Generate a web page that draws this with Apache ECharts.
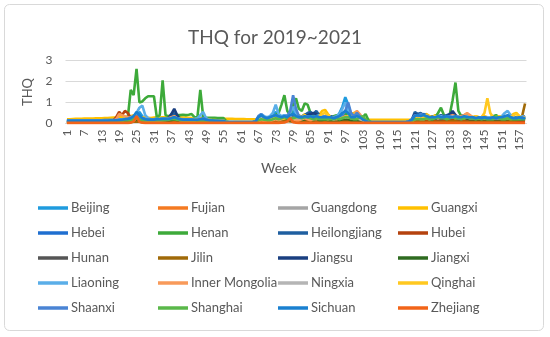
<!DOCTYPE html>
<html>
<head>
<meta charset="utf-8">
<script src="https://cdn.jsdelivr.net/npm/echarts@6/dist/echarts.min.js"></script>
<style>
html,body{margin:0;padding:0;background:#fff;}
#c{width:550px;height:337px;}
</style>
</head>
<body>
<div id="c"></div>
<script>
const provinces = ['Beijing','Fujian','Guangdong','Guangxi','Hebei','Henan','Heilongjiang','Hubei','Hunan','Jilin','Jiangsu','Jiangxi','Liaoning','Inner Mongolia','Ningxia','Qinghai','Shaanxi','Shanghai','Sichuan','Zhejiang'];
const colors = ['#1F9BDE','#F47A22','#A5A5A5','#FFC000','#1F6FD0','#3DAA3A','#1F5FA0','#B5420E','#555555','#A06A08','#1A3F80','#2E6B20','#5AAEE8','#F89A5A','#B5B5B5','#FFC820','#4A84D4','#5AB84A','#1A80D0','#F26418'];
const weekCount = 159;
const weeks = [];
for (let i = 1; i <= weekCount; i++) weeks.push(String(i));
const yTicks = [0, 1, 2, 3];

const beijing = [
.12,.12,.13,.12,.12,.13,.12,.12,.13,.12,
.12,.13,.12,.13,.14,.15,.15,.18,.2,.18,
.2,.22,.2,.3,.45,.55,.35,.2,.18,.2,
.18,.2,.18,.2,.22,.25,.2,.22,.2,.18,
.2,.18,.2,.18,.2,.2,.25,.3,.2,.15,
.15,.14,.14,.13,.12,.07,.07,.07,.07,.07,
.07,.07,.07,.07,.07,.08,.25,.35,.3,.25,
.3,.4,.55,.35,.3,.4,.3,.45,.6,.4,
.3,.25,.3,.35,.3,.25,.3,.35,.3,.35,
.4,.3,.25,.3,.5,.8,1.25,.9,.4,.3,
.35,.3,.2,.12,.07,.07,.07,.07,.07,.07,
.07,.07,.07,.07,.07,.07,.07,.07,.08,.15,
.3,.35,.3,.25,.3,.2,.25,.3,.25,.3,
.3,.25,.3,.35,.3,.25,.3,.35,.3,.25,
.2,.25,.2,.25,.3,.2,.2,.25,.2,.25,
.3,.35,.3,.25,.2,.25,.3,.25,.2];
const fujian = [
.05,.05,.05,.05,.05,.05,.05,.05,.05,.05,
.05,.05,.05,.05,.06,.06,.07,.08,.1,.12,
.15,.12,.1,.12,.2,.15,.1,.08,.08,.08,
.08,.08,.07,.08,.1,.12,.15,.12,.1,.08,
.08,.08,.07,.07,.07,.07,.07,.06,.06,.06,
.05,.05,.05,.05,.05,.05,.05,.05,.05,.05,
.05,.05,.05,.05,.05,.06,.1,.12,.1,.08,
.1,.12,.15,.12,.1,.12,.15,.2,.15,.12,
.1,.12,.15,.12,.1,.1,.12,.1,.1,.12,
.1,.1,.12,.1,.1,.12,.15,.12,.1,.15,
.2,.15,.1,.08,.05,.05,.05,.05,.05,.05,
.05,.05,.05,.05,.05,.05,.05,.05,.05,.06,
.1,.12,.1,.1,.12,.1,.1,.12,.1,.12,
.15,.12,.1,.15,.2,.15,.12,.15,.2,.15,
.12,.1,.1,.12,.1,.12,.1,.1,.12,.1,
.1,.12,.1,.1,.12,.1,.1,.12,.1];
const guangdong = [
.1,.1,.1,.1,.1,.1,.1,.1,.1,.1,
.1,.1,.1,.1,.1,.12,.12,.15,.15,.18,
.2,.18,.2,.25,.3,.2,.15,.15,.12,.12,
.12,.12,.12,.15,.15,.18,.2,.25,.2,.15,
.15,.12,.12,.12,.12,.12,.15,.15,.12,.1,
.1,.1,.1,.1,.1,.07,.07,.07,.07,.07,
.07,.07,.07,.07,.07,.1,.2,.3,.25,.2,
.2,.25,.3,.25,.3,.35,.4,.3,.25,.3,
.25,.2,.25,.3,.25,.2,.25,.2,.2,.25,
.2,.2,.15,.2,.25,.3,.35,.3,.25,.2,
.2,.15,.12,.1,.07,.07,.07,.07,.07,.07,
.07,.07,.07,.07,.07,.07,.07,.07,.07,.08,
.2,.25,.2,.2,.25,.2,.2,.25,.2,.25,
.25,.2,.25,.3,.25,.2,.25,.3,.25,.2,
.2,.2,.15,.2,.2,.15,.2,.2,.15,.2,
.2,.2,.25,.2,.2,.25,.2,.2,.2];
const guangxi = [
.2,.2,.21,.22,.22,.22,.23,.23,.24,.24,
.25,.25,.25,.26,.26,.27,.28,.28,.3,.3,
.3,.32,.35,.4,.3,.28,.3,.28,.27,.26,
.28,.3,.28,.3,.3,.28,.3,.3,.28,.3,
.28,.28,.27,.26,.25,.25,.25,.25,.25,.24,
.24,.23,.23,.22,.22,.22,.22,.22,.21,.21,
.21,.21,.2,.2,.2,.2,.22,.25,.22,.2,
.22,.25,.3,.25,.3,.28,.3,.25,.3,.28,
.4,.3,.45,.35,.3,.25,.3,.4,.6,.65,
.45,.3,.25,.3,.25,.3,.28,.35,.45,.5,
.55,.35,.25,.2,.18,.18,.18,.18,.18,.18,
.18,.18,.18,.18,.18,.18,.18,.18,.18,.18,
.3,.35,.3,.4,.45,.35,.3,.4,.35,.3,
.35,.3,.35,.3,.25,.3,.35,.3,.25,.3,
.3,.35,.3,.28,.35,.3,.3,.35,.3,.35,
.3,.35,.3,.35,.45,.5,.35,.3,.3];
const hebei = [
.15,.15,.15,.15,.15,.15,.15,.15,.15,.15,
.15,.15,.15,.16,.16,.17,.17,.18,.18,.2,
.2,.22,.25,.3,.4,.3,.25,.2,.2,.2,
.2,.22,.2,.25,.25,.22,.25,.3,.25,.22,
.2,.2,.2,.2,.18,.18,.18,.2,.18,.16,
.15,.14,.13,.12,.12,.07,.07,.07,.07,.07,
.07,.07,.07,.07,.07,.1,.3,.4,.3,.25,
.25,.3,.35,.3,.35,.3,.35,.5,.4,.3,
.3,.35,.3,.4,.35,.3,.35,.3,.3,.35,
.3,.25,.3,.25,.3,.35,.4,.35,.3,.3,
.3,.25,.2,.12,.07,.07,.07,.07,.07,.07,
.07,.07,.07,.07,.07,.07,.07,.07,.09,.12,
.4,.45,.35,.45,.4,.3,.3,.35,.3,.35,
.3,.35,.4,.35,.3,.35,.3,.3,.35,.3,
.3,.25,.3,.25,.3,.25,.3,.3,.25,.3,
.3,.25,.3,.35,.3,.25,.3,.25,.3];
const henan = [
.08,.08,.08,.08,.08,.08,.08,.09,.09,.09,
.09,.1,.1,.1,.1,.1,.12,.12,.14,.15,
.2,.3,1.6,1.35,2.6,1.0,1.05,1.2,1.3,1.3,
1.3,.3,.4,2.05,.4,.35,.4,.35,.4,.4,
.42,.4,.42,.45,.3,.3,1.6,.3,.27,.27,
.27,.27,.26,.26,.26,.1,.06,.06,.06,.06,
.06,.06,.06,.06,.06,.1,.2,.25,.3,.3,
.3,.35,.4,.5,.9,1.35,.6,.4,.9,1.2,
.7,.6,.95,.9,.5,.4,.35,.4,.35,.3,
.35,.3,.35,.4,.35,.4,.45,.5,.35,.3,
.3,.35,.3,.45,.15,.06,.06,.06,.06,.06,
.06,.06,.06,.06,.06,.06,.06,.06,.08,.12,
.2,.25,.2,.25,.3,.25,.3,.3,.5,.75,
.4,.35,.4,1.1,1.95,.6,.35,.4,.45,.35,
.3,.3,.25,.3,.3,.25,.3,.35,.4,.3,
.3,.25,.3,.3,.25,.3,.3,.25,.3];
const heilongjiang = [
.1,.1,.1,.1,.1,.1,.1,.1,.1,.1,
.1,.1,.1,.1,.12,.12,.12,.14,.15,.15,
.18,.2,.2,.25,.3,.25,.2,.18,.15,.15,
.15,.15,.18,.2,.2,.25,.35,.5,.3,.2,
.18,.15,.15,.15,.15,.12,.12,.12,.1,.1,
.1,.1,.1,.1,.1,.06,.06,.06,.06,.06,
.06,.06,.06,.06,.06,.08,.2,.3,.25,.2,
.2,.25,.3,.25,.3,.25,.3,.35,.3,.25,
.3,.35,.4,.5,.55,.45,.6,.4,.35,.3,
.3,.35,.3,.25,.3,.35,.3,.3,.25,.3,
.25,.2,.15,.1,.06,.06,.06,.06,.06,.06,
.06,.06,.06,.06,.06,.06,.06,.06,.1,.2,
.55,.45,.5,.4,.35,.3,.35,.3,.35,.4,
.35,.4,.45,.5,.35,.3,.35,.4,.3,.3,
.3,.3,.25,.3,.3,.25,.3,.3,.25,.3,
.3,.3,.25,.3,.3,.25,.3,.3,.35];
const hubei = [
.05,.05,.05,.05,.05,.05,.05,.05,.05,.05,
.05,.05,.06,.07,.08,.1,.15,.3,.55,.4,
.6,.5,.25,.2,.3,.2,.15,.12,.1,.1,
.1,.1,.1,.12,.15,.15,.15,.2,.15,.12,
.1,.1,.1,.1,.08,.08,.08,.08,.07,.07,
.07,.07,.06,.06,.06,.05,.05,.05,.05,.05,
.05,.05,.05,.05,.05,.05,.08,.1,.1,.08,
.1,.12,.15,.2,.3,.35,.25,.2,.15,.12,
.12,.1,.12,.1,.1,.12,.1,.1,.12,.1,
.1,.12,.1,.1,.12,.1,.12,.15,.12,.1,
.12,.1,.08,.06,.05,.05,.05,.05,.05,.05,
.05,.05,.05,.05,.05,.05,.05,.05,.05,.05,
.1,.12,.1,.12,.1,.12,.1,.1,.12,.1,
.12,.1,.15,.2,.15,.12,.1,.15,.12,.1,
.1,.1,.1,.1,.1,.1,.1,.1,.1,.1,
.1,.1,.1,.1,.1,.1,.1,.1,.1];
const hunan = [
.08,.08,.08,.08,.08,.08,.08,.08,.08,.08,
.08,.08,.08,.08,.08,.09,.1,.1,.12,.12,
.15,.15,.15,.2,.25,.2,.15,.12,.12,.12,
.12,.12,.12,.15,.15,.15,.2,.25,.2,.15,
.12,.12,.12,.12,.1,.1,.1,.1,.1,.1,
.08,.08,.08,.08,.08,.05,.05,.05,.05,.05,
.05,.05,.05,.05,.05,.07,.15,.2,.2,.15,
.15,.2,.25,.2,.25,.2,.3,.25,.2,.2,
.2,.25,.35,.3,.25,.2,.25,.2,.2,.2,
.2,.2,.2,.25,.2,.2,.25,.3,.25,.2,
.2,.15,.1,.08,.05,.05,.05,.05,.05,.05,
.05,.05,.05,.05,.05,.05,.05,.05,.07,.1,
.2,.25,.2,.2,.25,.2,.2,.25,.2,.2,
.25,.2,.25,.3,.25,.2,.2,.25,.2,.2,
.2,.2,.2,.2,.2,.2,.2,.2,.2,.2,
.2,.2,.2,.25,.2,.2,.2,.2,.2];
const jilin = [
.04,.04,.04,.04,.04,.04,.04,.04,.04,.04,
.04,.04,.04,.04,.04,.04,.04,.04,.04,.04,
.05,.05,.06,.08,.1,.08,.06,.05,.05,.05,
.05,.05,.05,.05,.05,.05,.05,.05,.05,.05,
.05,.05,.05,.05,.05,.05,.05,.05,.05,.05,
.04,.04,.04,.04,.04,.04,.04,.04,.04,.04,
.04,.04,.04,.04,.04,.04,.06,.08,.07,.06,
.06,.08,.1,.08,.1,.1,.12,.1,.08,.08,
.08,.08,.08,.08,.08,.08,.08,.08,.08,.08,
.08,.08,.08,.08,.08,.08,.08,.08,.08,.08,
.08,.07,.06,.05,.04,.04,.04,.04,.04,.04,
.04,.04,.04,.04,.04,.04,.04,.04,.04,.04,
.08,.08,.08,.08,.08,.08,.08,.08,.08,.08,
.08,.08,.1,.12,.1,.08,.08,.08,.08,.08,
.08,.08,.08,.08,.08,.08,.08,.08,.08,.08,
.1,.1,.12,.1,.12,.15,.2,.35,.95];
const jiangsu = [
.1,.1,.1,.1,.1,.1,.1,.1,.1,.1,
.1,.1,.1,.1,.1,.12,.12,.12,.14,.15,
.15,.15,.18,.2,.25,.2,.18,.15,.15,.15,
.15,.15,.18,.2,.2,.25,.45,.7,.4,.2,
.18,.15,.15,.15,.12,.12,.12,.12,.1,.1,
.1,.1,.1,.1,.1,.06,.06,.06,.06,.06,
.06,.06,.06,.06,.06,.06,.15,.2,.2,.15,
.2,.25,.25,.2,.25,.25,.3,.3,.25,.25,
.25,.3,.35,.4,.45,.5,.45,.35,.3,.25,
.25,.3,.25,.2,.25,.3,.25,.25,.2,.25,
.2,.15,.12,.08,.06,.06,.06,.06,.06,.06,
.06,.06,.06,.06,.06,.06,.06,.06,.08,.15,
.45,.35,.4,.3,.3,.25,.3,.25,.3,.35,
.3,.35,.4,.6,.4,.3,.3,.35,.3,.25,
.25,.3,.25,.25,.3,.25,.25,.3,.25,.25,
.25,.3,.25,.25,.3,.25,.25,.3,.3];
const jiangxi = [
.06,.06,.06,.06,.06,.06,.06,.06,.06,.06,
.06,.06,.06,.06,.06,.06,.07,.08,.08,.1,
.1,.12,.12,.15,.2,.15,.12,.1,.1,.1,
.1,.1,.1,.12,.12,.12,.15,.2,.15,.12,
.1,.1,.1,.1,.1,.1,.1,.1,.1,.1,
.08,.08,.08,.08,.08,.05,.05,.05,.05,.05,
.05,.05,.05,.05,.05,.05,.1,.15,.12,.1,
.12,.15,.2,.15,.2,.25,.2,.15,.2,.2,
.2,.15,.2,.25,.2,.15,.2,.15,.15,.2,
.15,.15,.15,.15,.15,.2,.2,.2,.15,.15,
.15,.12,.1,.07,.05,.05,.05,.05,.05,.05,
.05,.05,.05,.05,.05,.05,.05,.05,.06,.1,
.2,.25,.2,.2,.25,.2,.2,.25,.25,.3,
.3,.25,.3,.35,.3,.3,.25,.3,.25,.2,
.2,.2,.2,.2,.2,.2,.2,.2,.2,.2,
.2,.2,.2,.25,.2,.2,.2,.2,.25];
const liaoning = [
.15,.15,.15,.15,.15,.15,.15,.15,.15,.15,
.15,.15,.15,.15,.15,.16,.16,.18,.2,.2,
.22,.25,.3,.35,.5,.75,.85,.4,.25,.2,
.2,.22,.2,.25,.25,.22,.25,.3,.25,.22,
.2,.2,.2,.2,.22,.25,.4,.55,.25,.18,
.16,.15,.14,.13,.12,.07,.07,.07,.07,.07,
.07,.07,.07,.07,.07,.08,.3,.45,.35,.3,
.35,.5,.9,.45,.35,.4,.35,.5,.8,.5,
.35,.3,.35,.3,.35,.3,.35,.4,.35,.3,
.35,.3,.3,.35,.45,.7,1.0,.6,.35,.3,
.3,.25,.2,.12,.07,.07,.07,.07,.07,.07,
.07,.07,.07,.07,.07,.07,.07,.07,.1,.15,
.35,.3,.35,.3,.35,.3,.3,.35,.3,.35,
.3,.35,.3,.35,.3,.35,.3,.3,.35,.3,
.3,.25,.3,.3,.25,.3,.3,.25,.3,.3,
.35,.5,.6,.4,.3,.25,.3,.35,.3];
const innerMongolia = [
.07,.07,.07,.07,.07,.07,.07,.07,.07,.07,
.07,.07,.07,.07,.07,.08,.1,.2,.45,.4,
.35,.3,.2,.15,.25,.2,.15,.12,.1,.1,
.1,.1,.12,.15,.2,.25,.3,.35,.25,.15,
.12,.1,.1,.1,.1,.08,.08,.08,.08,.08,
.07,.07,.07,.07,.07,.05,.05,.05,.05,.05,
.05,.05,.05,.05,.05,.05,.1,.15,.12,.1,
.12,.15,.2,.15,.2,.25,.3,.25,.2,.15,
.15,.2,.25,.2,.15,.2,.2,.25,.3,.25,
.2,.25,.2,.2,.25,.3,.35,.3,.35,.45,
.6,.45,.25,.1,.05,.05,.05,.05,.05,.05,
.05,.05,.05,.05,.05,.05,.05,.05,.06,.1,
.2,.25,.2,.2,.25,.2,.25,.3,.25,.3,
.3,.3,.35,.4,.35,.3,.35,.4,.5,.4,
.3,.25,.3,.25,.3,.25,.25,.3,.25,.25,
.25,.3,.25,.3,.25,.25,.3,.25,.25];
const ningxia = [
.12,.12,.12,.12,.12,.12,.12,.12,.12,.12,
.12,.12,.12,.12,.12,.13,.14,.15,.16,.18,
.2,.2,.22,.25,.3,.25,.2,.18,.18,.18,
.18,.18,.18,.2,.2,.22,.25,.25,.22,.2,
.18,.18,.18,.18,.16,.16,.16,.16,.15,.15,
.14,.14,.13,.13,.12,.06,.06,.06,.06,.06,
.06,.06,.06,.06,.06,.07,.15,.25,.2,.18,
.2,.25,.3,.25,.3,.3,.35,.3,.25,.25,
.25,.25,.3,.3,.25,.25,.3,.25,.25,.25,
.25,.25,.2,.25,.25,.3,.3,.3,.25,.25,
.25,.2,.15,.1,.06,.06,.06,.06,.06,.06,
.06,.06,.06,.06,.06,.06,.06,.06,.08,.12,
.25,.3,.25,.25,.3,.25,.25,.3,.25,.3,
.3,.25,.3,.35,.3,.25,.3,.3,.3,.25,
.25,.25,.25,.25,.25,.25,.25,.25,.25,.25,
.25,.25,.25,.25,.25,.25,.25,.25,.25];
const qinghai = [
.1,.1,.1,.1,.1,.1,.1,.1,.1,.1,
.1,.1,.1,.1,.1,.12,.12,.14,.15,.15,
.18,.2,.2,.25,.3,.25,.2,.18,.18,.18,
.2,.2,.2,.22,.22,.22,.25,.28,.25,.22,
.22,.22,.22,.22,.2,.2,.2,.2,.18,.18,
.16,.16,.15,.15,.14,.06,.06,.06,.06,.06,
.06,.06,.06,.06,.06,.07,.15,.2,.2,.18,
.2,.22,.25,.22,.25,.25,.28,.25,.25,.3,
.35,.3,.4,.3,.25,.25,.3,.35,.45,.5,
.4,.3,.25,.25,.25,.3,.3,.35,.4,.45,
.45,.3,.2,.1,.06,.06,.06,.06,.06,.06,
.06,.06,.06,.06,.06,.06,.06,.06,.08,.15,
.25,.3,.35,.3,.4,.35,.3,.35,.3,.3,
.3,.3,.3,.3,.25,.3,.3,.25,.3,.3,
.3,.35,.3,.3,.5,1.2,.5,.3,.3,.35,
.3,.3,.35,.3,.4,.45,.35,.3,.3];
const shaanxi = [
.14,.14,.14,.14,.14,.14,.14,.14,.14,.14,
.14,.14,.14,.14,.14,.15,.15,.16,.18,.18,
.2,.22,.25,.3,.35,.3,.25,.2,.2,.2,
.2,.2,.2,.22,.22,.22,.25,.3,.25,.2,
.2,.2,.2,.2,.18,.18,.2,.25,.2,.16,
.15,.14,.13,.13,.12,.06,.06,.06,.06,.06,
.06,.06,.06,.06,.06,.08,.35,.45,.3,.25,
.3,.35,.4,.3,.3,.35,.35,.6,1.35,.7,
.35,.3,.3,.35,.3,.3,.35,.3,.3,.35,
.3,.3,.25,.3,.35,.4,.6,1.0,.5,.35,
.5,.35,.2,.12,.06,.06,.06,.06,.06,.06,
.06,.06,.06,.06,.06,.06,.06,.06,.1,.2,
.4,.35,.45,.4,.35,.3,.3,.3,.3,.3,
.3,.3,.35,.3,.3,.3,.3,.3,.3,.3,
.3,.25,.25,.3,.3,.25,.25,.3,.25,.25,
.25,.3,.35,.3,.25,.25,.3,.3,.25];
const shanghai = [
.09,.09,.09,.09,.09,.09,.09,.09,.09,.09,
.09,.09,.09,.09,.09,.1,.1,.1,.12,.12,
.15,.15,.15,.2,.25,.2,.15,.15,.15,.15,
.15,.15,.15,.15,.15,.18,.2,.2,.18,.15,
.15,.15,.15,.15,.15,.12,.12,.12,.12,.12,
.12,.12,.12,.12,.12,.05,.05,.05,.05,.05,
.05,.05,.05,.05,.05,.06,.15,.2,.18,.15,
.15,.2,.25,.2,.25,.3,.25,.25,.25,.3,
.3,.25,.3,.3,.25,.2,.25,.2,.2,.2,
.2,.2,.2,.25,.2,.25,.3,.3,.25,.2,
.2,.3,.35,.2,.05,.05,.05,.05,.05,.05,
.05,.05,.05,.05,.05,.05,.05,.05,.07,.1,
.2,.2,.2,.2,.25,.2,.2,.25,.3,.25,
.25,.2,.25,.3,.25,.25,.2,.25,.3,.25,
.25,.2,.25,.2,.25,.2,.2,.2,.35,.25,
.2,.2,.25,.2,.2,.2,.2,.2,.2];
const sichuan = [
.13,.13,.13,.13,.13,.13,.13,.13,.13,.13,
.13,.13,.13,.13,.13,.14,.14,.15,.16,.18,
.2,.22,.25,.35,.55,.4,.25,.2,.18,.18,
.18,.2,.2,.22,.22,.22,.25,.3,.25,.2,
.18,.18,.18,.18,.18,.18,.2,.22,.18,.15,
.14,.13,.13,.12,.12,.06,.06,.06,.06,.06,
.06,.06,.06,.06,.06,.08,.3,.4,.3,.25,
.3,.35,.4,.35,.3,.35,.3,.4,.45,.35,
.3,.3,.35,.3,.35,.3,.35,.3,.3,.3,
.3,.3,.25,.3,.35,.5,.6,.5,.3,.3,
.35,.3,.2,.12,.06,.06,.06,.06,.06,.06,
.06,.06,.06,.06,.06,.06,.06,.06,.1,.18,
.35,.4,.35,.4,.35,.3,.3,.3,.35,.3,
.3,.35,.3,.3,.35,.3,.3,.35,.3,.3,
.3,.25,.3,.25,.3,.25,.25,.3,.25,.3,
.3,.35,.4,.3,.25,.25,.3,.25,.25];
const zhejiang = [
.03,.03,.03,.03,.03,.03,.03,.03,.03,.03,
.03,.03,.03,.03,.03,.03,.03,.03,.03,.03,
.03,.03,.04,.1,.35,.08,.04,.03,.03,.03,
.03,.03,.03,.03,.03,.03,.03,.03,.03,.03,
.03,.03,.03,.03,.03,.03,.03,.03,.03,.03,
.03,.03,.03,.03,.03,.03,.03,.03,.03,.03,
.03,.03,.03,.03,.03,.03,.03,.03,.03,.03,
.03,.03,.03,.03,.04,.05,.1,.25,.06,.04,
.03,.03,.03,.03,.03,.03,.03,.03,.03,.03,
.03,.03,.03,.03,.03,.03,.03,.03,.03,.03,
.03,.03,.03,.03,.03,.03,.03,.03,.03,.03,
.03,.03,.03,.03,.03,.03,.03,.03,.03,.03,
.03,.03,.03,.03,.03,.03,.03,.03,.03,.03,
.03,.03,.03,.03,.03,.03,.03,.03,.03,.03,
.03,.03,.03,.03,.03,.03,.03,.03,.03,.03,
.03,.03,.03,.03,.03,.03,.03,.03,.03];

const seriesData = [beijing,fujian,guangdong,guangxi,hebei,henan,heilongjiang,hubei,hunan,jilin,jiangsu,jiangxi,liaoning,innerMongolia,ningxia,qinghai,shaanxi,shanghai,sichuan,zhejiang];
seriesData.forEach((a,i)=>{ if(a.length!==weekCount) console.error(provinces[i]+' length '+a.length); });

const FONT = 'Lato, "Open Sans", sans-serif';
const TXT = '#595959';
const chart = echarts.init(document.getElementById('c'), null, {renderer:'canvas'});

const legendCols = [38, 158, 278, 398];
const legends = legendCols.map((x, c) => ({
  orient: 'vertical',
  left: x,
  top: 201,
  icon: 'rect',
  itemWidth: 30,
  itemHeight: 3.5,
  itemGap: 11,
  padding: 0,
  textStyle: {fontFamily: FONT, fontSize: 13, lineHeight: 14, color: TXT, padding: [0,0,0,-2]},
  data: [0,1,2,3,4].map(r => provinces[r*4 + c])
}));

chart.setOption({
  animation: false,
  backgroundColor: '#fff',
  color: colors,
  title: {
    text: 'THQ for 2019~2021',
    left: 'center',
    top: 23,
    textStyle: {fontFamily: FONT, fontSize: 19, fontWeight: 'normal', color: TXT}
  },
  graphic: [
    {type: 'rect', shape: {x: 4.5, y: 4.5, width: 539, height: 326, r: 5}, style: {fill: 'none', stroke: '#D9D9D9', lineWidth: 1}, z: -1},
    {type: 'text', left: 278 - 17, top: 161, style: {text: 'Week', font: '14px ' + FONT, fill: TXT}}
  ],
  legend: legends,
  grid: {left: 65.5, right: 23.5, top: 60.5, bottom: 213.5, containLabel: false},
  xAxis: {
    type: 'category',
    data: weeks,
    boundaryGap: true,
    axisLine: {lineStyle: {color: '#D9D9D9', width: 1}},
    axisTick: {show: false},
    axisLabel: {interval: 5, rotate: 90, fontFamily: FONT, fontSize: 12, color: TXT, margin: 6}
  },
  yAxis: {
    type: 'value',
    min: yTicks[0],
    max: yTicks[yTicks.length - 1],
    interval: 1,
    name: 'THQ',
    nameLocation: 'middle',
    nameRotate: 90,
    nameGap: 19,
    nameTextStyle: {fontFamily: FONT, fontSize: 13, color: TXT},
    axisLine: {show: false},
    axisTick: {show: false},
    splitLine: {lineStyle: {color: '#D9D9D9', width: 1}},
    axisLabel: {fontFamily: FONT, fontSize: 12, color: TXT, margin: 13}
  },
  series: provinces.map((name, i) => ({
    name: name,
    type: 'line',
    data: seriesData[i],
    symbol: 'none',
    lineStyle: {width: 2.6, color: colors[i]},
    itemStyle: {color: colors[i]}
  }))
});
</script>
</body>
</html>
